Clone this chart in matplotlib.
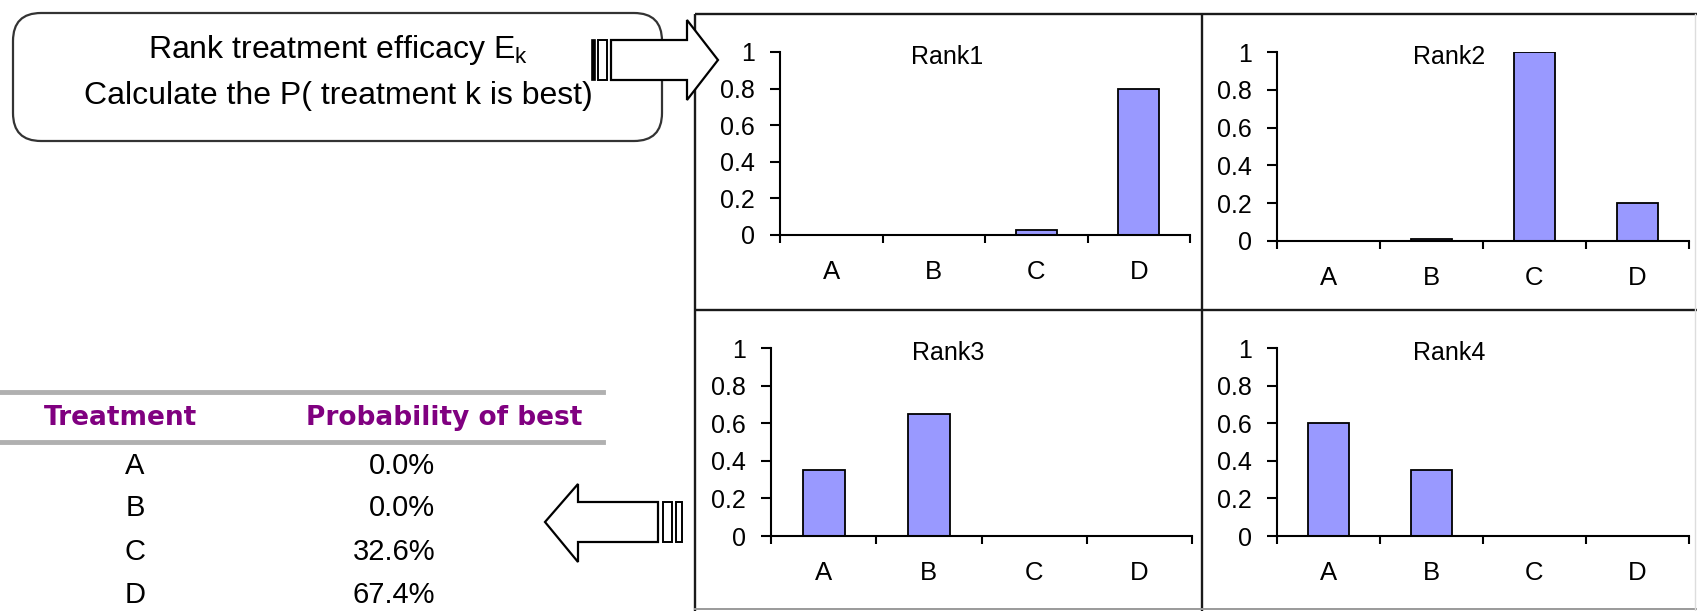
import numpy as np
import matplotlib
matplotlib.use("Agg")
import matplotlib.pyplot as plt
from matplotlib.patches import FancyBboxPatch, Polygon, Rectangle
from matplotlib.ticker import FuncFormatter

plt.rcParams["font.family"] = ["Liberation Sans", "DejaVu Sans"]
plt.rcParams["mathtext.fontset"] = "custom"
plt.rcParams["mathtext.rm"] = "Liberation Sans"
plt.rcParams["mathtext.it"] = "Liberation Sans:italic"

# ---- data -------------------------------------------------------------
categories = ["A", "B", "C", "D"]
rank1 = [0.0, 0.0, 0.025, 0.80]
rank2 = [0.0, 0.008, 1.00, 0.20]
rank3 = [0.35, 0.65, 0.0, 0.0]
rank4 = [0.60, 0.35, 0.0, 0.0]
rank_titles = ["Rank1", "Rank2", "Rank3", "Rank4"]
y_ticks = [0, 0.2, 0.4, 0.6, 0.8, 1.0]

table_header = ["Treatment", "Probability of best"]
prob_best = [0.0, 0.0, 32.6, 67.4]   # percent

box_line1 = r"Rank treatment efficacy E$_\mathrm{k}$"
box_line2 = "Calculate the P( treatment k is best)"

# ---- canvas -----------------------------------------------------------
W, H = 1697, 611
fig = plt.figure(figsize=(W / 100, H / 100), dpi=100)
bg = fig.add_axes([0, 0, 1, 1])
bg.set_xlim(0, W)
bg.set_ylim(H, 0)
bg.axis("off")


def px_axes(x0, y0, x1, y1):
    return fig.add_axes([x0 / W, 1 - y1 / H, (x1 - x0) / W, (y1 - y0) / H])


# frame around the four rank panels
frame_kw = dict(color="#1a1a1a", lw=1.7, solid_capstyle="butt", zorder=1)
bg.plot([695, W], [14, 14], **frame_kw)
bg.plot([695, 695], [14, H], **frame_kw)
bg.plot([1202, 1202], [14, H], **frame_kw)
bg.plot([695, W], [310, 310], **frame_kw)
bg.plot([695, W], [609, 609], color="#9a9a9a", lw=1.4, zorder=1)
bg.plot([1695, 1695], [14, H], color="#dddddd", lw=1.0, zorder=1)

# ---- rank panels ------------------------------------------------------
panels = [
    (rank1, (780, 52, 1190, 235), 0.407),
    (rank2, (1277, 52, 1689, 241), 0.417),
    (rank3, (771, 348, 1192, 536), 0.420),
    (rank4, (1277, 348, 1689, 536), 0.417),
]
x = np.arange(len(categories))
for (vals, box, tx), title in zip(panels, rank_titles):
    ax = px_axes(*box)
    ax.patch.set_alpha(0)
    ax.bar(x, vals, width=0.4, color="#9999ff", edgecolor="black",
           linewidth=[1.3 if v > 0 else 0 for v in vals], zorder=3)
    ax.set_xlim(-0.5, len(categories) - 0.5)
    ax.set_ylim(0, 1)
    for s in ("top", "right"):
        ax.spines[s].set_visible(False)
    for s in ("left", "bottom"):
        ax.spines[s].set_linewidth(1.5)
        ax.spines[s].set_zorder(4)
    ax.set_yticks(y_ticks)
    ax.yaxis.set_major_formatter(FuncFormatter(lambda v, _: f"{v:g}"))
    ax.set_xticks(x)
    ax.set_xticklabels(categories)
    ax.set_xticks(np.arange(-0.5, len(categories), 1.0), minor=True)
    ax.tick_params(axis="x", which="major", length=0, pad=18, labelsize=18.5)
    ax.tick_params(axis="x", which="minor", length=6, width=1.5, direction="out")
    ax.tick_params(axis="y", length=7, width=1.5, pad=11, labelsize=18)
    ax.text(tx, 0.973, title, transform=ax.transAxes, ha="center",
            va="center", fontsize=18)

# ---- rounded text box and right arrow ---------------------------------
bg.add_patch(FancyBboxPatch((13, 13), 649, 128,
                            boxstyle="round,pad=0,rounding_size=28",
                            fc="white", ec="#333333", lw=1.6, zorder=2))
bg.text(338, 50, box_line1, ha="center", va="center", fontsize=23, zorder=3)
bg.text(338, 96, box_line2, ha="center", va="center", fontsize=23, zorder=3)

right_arrow = [(611, 40), (687, 40), (687, 20), (718, 60), (687, 100),
               (687, 80), (611, 80)]
bg.add_patch(Polygon(right_arrow, closed=True, fc="white", ec="black",
                     lw=1.6, joinstyle="miter", zorder=5))
bg.add_patch(Rectangle((592, 40), 3, 40, fc="black", ec="black", lw=1.2, zorder=5))
bg.add_patch(Rectangle((598, 40), 9, 40, fc="white", ec="black", lw=1.4, zorder=5))

# ---- left arrow -------------------------------------------------------
left_arrow = [(545, 522), (578, 484), (578, 502), (658, 502), (658, 542),
              (578, 542), (578, 562)]
bg.add_patch(Polygon(left_arrow, closed=True, fc="white", ec="black",
                     lw=1.6, joinstyle="miter", zorder=5))
bg.add_patch(Rectangle((663, 502), 9, 40, fc="white", ec="black", lw=1.4, zorder=5))
bg.add_patch(Rectangle((676, 502), 6, 40, fc="white", ec="black", lw=1.4, zorder=5))

# ---- probability-of-best table ----------------------------------------
bg.plot([0, 603], [392, 392], color="#b0b0b0", lw=3.5, zorder=2)
bg.plot([0, 603], [442, 442], color="#b0b0b0", lw=3.5, zorder=2)
bg.text(121, 418, table_header[0], ha="center", va="center", fontsize=19,
        fontweight="bold", color="#800080", family="DejaVu Sans")
bg.text(444, 418, table_header[1], ha="center", va="center", fontsize=19,
        fontweight="bold", color="#800080", family="DejaVu Sans")
row_y = [466, 508, 552, 595]
for cat, p, yy in zip(categories, prob_best, row_y):
    bg.text(135, yy, cat, ha="center", va="center", fontsize=21)
    bg.text(435, yy, f"{p:.1f}%", ha="right", va="center", fontsize=21)

fig.savefig("out.png", dpi=100)
